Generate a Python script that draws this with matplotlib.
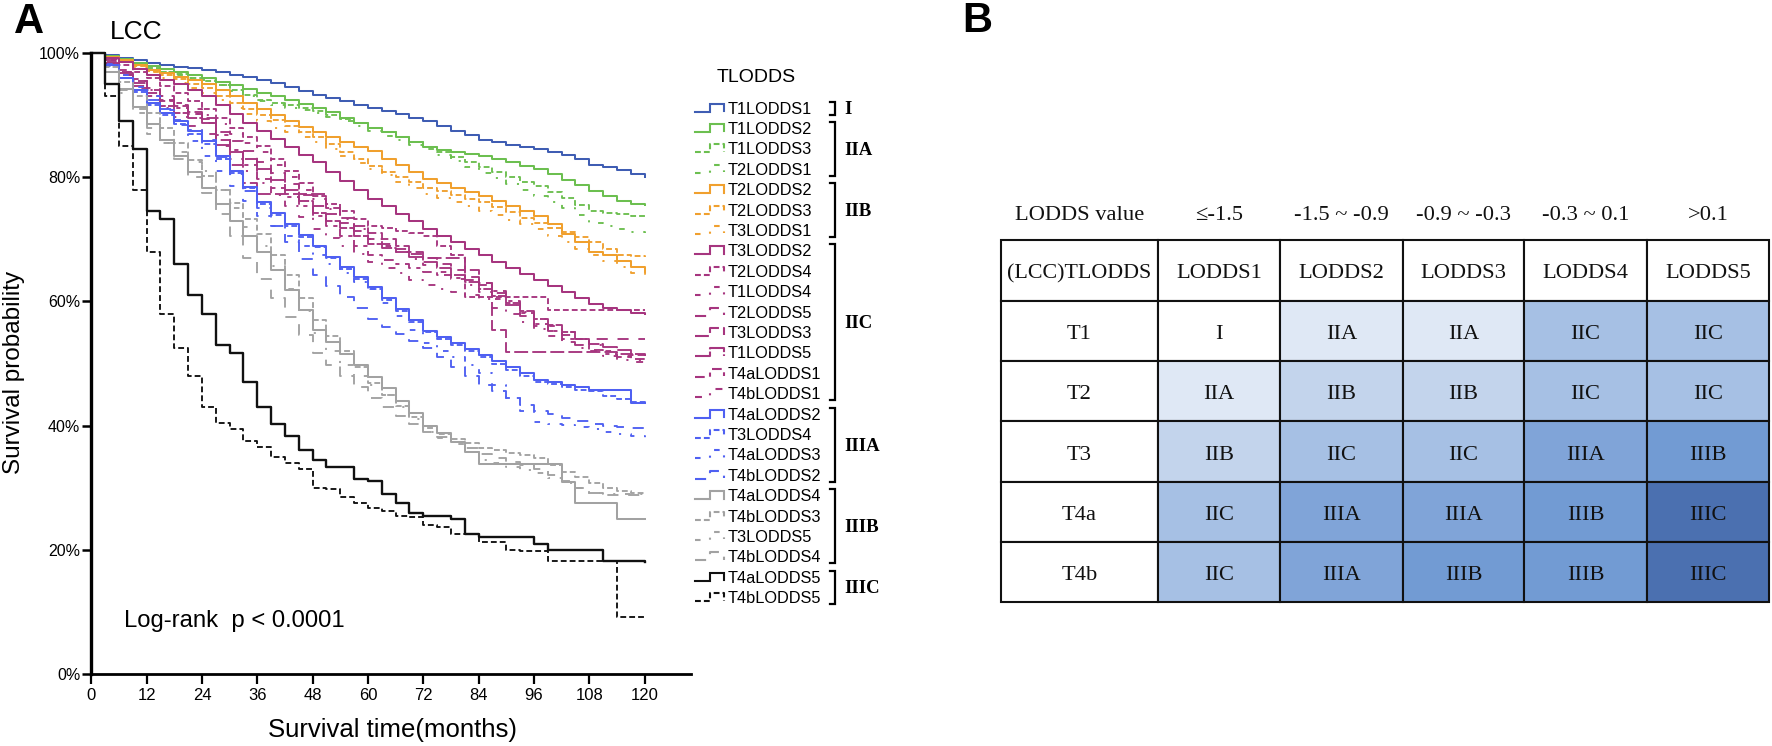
import matplotlib
matplotlib.use("Agg")
import matplotlib.pyplot as plt
from matplotlib.patches import Rectangle

plt.rcParams['font.family'] = ['Liberation Sans', 'DejaVu Sans']
plt.rcParams['lines.scale_dashes'] = False

W, H = 1772, 746
MONTHS = list(range(0, 121, 3))

T1L1 = [100, 99.6,99.2,98.8,98.4, 98.1,97.8,97.6,97.3, 96.9,96.5,96.1,95.7, 95.1,94.5,93.9,93.3, 92.8,92.2,91.7,91.2, 90.7,90.1,89.5,89, 88.3,87.5,86.8,86, 85.6,85.2,84.9,84.5, 84,83.5,82.9,82, 81.7,81.2,80.5,80]
T1L2 = [100, 99.5,99,98.4,97.9, 97.4,97,96.5,96, 95.4,94.8,94.2,93.6, 93,92.4,91.8,91.2, 90.5,89.6,88.8,88, 87.2,86.4,85.6,84.8, 84.4,84,83.7,83.4, 82.9,82.4,81.8,81.3, 80.5,79.6,78.7,77.8, 77,76.2,75.7,75.5]
T1L3 = [100, 99.4,99,98.3,97.6, 97,96.6,96,95.5, 94.8,94,93.3,92.5, 92,91.6,91.1,90.6, 90,89.4,88.7,88, 87.3,86.5,85.6,84.8, 84,83.2,82.4,81.6, 80.8,80,79.3,78.6, 77.6,76.6,75.6,74.6, 74.2,74,73.8,73.8]
T2L1 = [100, 99.4,98.8,98.1,97.4, 96.9,96.4,96,95.7, 94.8,93.9,93,92.2, 91.6,91.2,90.8,90.4, 89.7,89,88.2,87.4, 86.7,86,85.2,84.5, 83.6,82.6,81.7,80.7, 79.8,78.9,78,77, 76,75,73.9,72.7, 72.2,71.7,71.2,71]
T2L2 = [100, 99.4,98.8,98,97.3, 96.7,96.2,95.6,95, 94,93,92,91, 90,89,88.1,87.2, 86.4,85.6,84.9,84.2, 83,81.9,80.8,79.7, 79,78.3,77.6,77, 76.2,75.4,74.6,73.8, 72.4,70.9,69.5,68, 67.4,66.5,65.5,64.8]
T2L3 = [100, 99.3,98.7,97.9,97.1, 96.4,95.8,95,94.3, 93,92,91,90, 89.2,88.2,87.3,86.4, 85.3,84.1,83,81.8, 80.9,80,79.2,78.3, 77.7,77.1,76.5,76, 75.2,74.4,73.5,72.7, 71.9,71.1,70.3,69.5, 68.5,67.5,67.3,67.2]
T3L1 = [100, 99.2,98.5,97.6,96.9, 96,95.2,94.3,93.6, 92.4,91.2,90.1,89, 88,87.2,86.4,85.6, 84.5,83.4,82.3,81.3, 80.3,79.3,78.3,77.3, 76.6,76,75.3,74.6, 73.9,73.1,72.4,71.7, 70.6,69.6,68.5,67.4, 66.5,65.5,64.5,63.8]
T3L2 = [100, 99.2,98.5,97.5,96.5, 95.7,95,94,93, 91.6,90.2,88.8,87.4, 86.2,84.9,83.6,82.4, 80.9,79.4,78,76.5, 75.3,74,72.9,71.7, 70.6,69.5,68.5,67.4, 66.4,65.4,64.4,63.4, 62.4,61.5,60.5,59.6, 59,58.6,58.2,58]
T2L4 = [100, 99,98,97,96, 94.7,93.5,92.2,91, 89.5,88,86.5,85, 83,81,79,77, 75.7,74.5,73.3,72.2, 71.8,71.4,71,70.6, 69,67.5,60.7,60.7, 60.7,60.7,60.7,60.7, 58.6,58.6,58.6,58.6, 58.6,58.6,58.6,58.6]
T1L4 = [100, 98.8,97,95.5,94, 93,92,91,90, 88.5,87,85.5,84, 82,80,78,76.5, 74.8,73.2,71.6,70, 69,68,66.9,65.8, 64.7,63.6,62.6,61.5, 60.4,59.4,58.3,57.2, 56,55,54,53, 52,51.2,50.5,50]
T2L5 = [100, 98.8,97.2,95.8,94.4, 93,91.6,90.2,88.8, 87.3,85.8,84.2,82.4, 80.6,78.9,77.2,75.4, 74,72.7,71.3,70, 69.2,68.5,67.7,67, 66,65,64,63, 61.3,59.5,57.7,56, 55.3,54.6,54,54, 54,54,54,54]
T3L3 = [100, 98.3,96.5,94.7,93, 92.2,91.4,90.5,89.6, 86,82,79,77.3, 77.3,77.3,77.3,77.3, 75,73.5,72.2,71, 70,69,68,67, 67,67,65,62.6, 55.4,51.8,51.8,51.8, 51.8,51.8,51.8,51.8, 51.8,51.6,51.4,51.2]
T1L5 = [100, 98.4,96.8,95.2,93.6, 91.4,90.3,89.5,88.8, 85.2,84.1,82.9,81.3, 79.6,78,76.2,74.3, 73,71.8,70.5,69.3, 68.6,67.9,67.1,66.3, 65.3,64.2,63.1,62, 60.9,59.8,58.5,57.2, 56.2,55.1,54,53.2, 52.6,52.1,51.6,51.2]
T4aL1 = [100, 98.6,97,95.5,94, 92.5,91.2,90.2,89.3, 86.8,84.4,82,79.7, 78.2,76.8,75.3,73.8, 72.2,70.6,69,67.4, 66.7,66,65.3,64.7, 64.2,63.8,63.4,63, 61.6,60,58.2,56.4, 55.2,54,53,52.2, 51.6,51.1,50.8,50.5]
T4bL1 = [100, 98.2,96.4,94.4,92.5, 91.1,89.7,88.3,87, 85,83,81,79, 77.2,75.4,73.6,71.7, 70.2,68.9,67.6,66.3, 65.4,64.5,63.5,62.6, 62,61.5,61,60.4, 59,57.9,56.7,55.6, 54.5,53.4,52.5,52, 51.2,50.6,50.2,50]
T4aL2 = [100, 98,96,94,92, 90.4,89,87.4,85.8, 83.4,81,78.5,76, 74.2,72.5,70.7,69, 67.2,65.5,63.9,62.3, 60.5,58.7,57,55.2, 54.2,53.3,52.3,51.4, 50.4,49.4,48.4,47.4, 47,46.6,46.2,45.8, 45.8,45.8,43.7,43.7]
T3L4 = [100, 97.9,95.9,93.8,91.7, 90,88.6,87,85.3, 83,80.6,78.2,75.7, 73.9,72.2,70.4,68.7, 67,65.2,63.6,62, 60.2,58.5,56.7,55, 54,53,52,51, 50,49,48,47.1, 46.7,46.2,45.8,45.5, 44.8,44.3,43.8,43.5]
T4aL3 = [100, 98.2,96.4,94.6,93, 90.8,88.4,85.8,83.4, 81,78.6,76.2,73.8, 72.2,70.6,69,67.4, 66,64.6,63.2,62, 59.8,57.6,55.4,53.3, 52,51,49.8,48.5, 46.5,44.5,42.4,40.5, 40.3,40.1,39.8,39.4, 39,38.6,38.3,38]
T4bL2 = [100, 98,96,94,92.5, 91,89.2,87.6,86, 83.3,80.5,77.7,75, 72.2,69.5,66.8,64.2, 62.5,60.7,59,57.2, 55.9,54.7,53.6,52.5, 51,49.5,48,46.6, 45.5,44.4,43.3,42.3, 41.8,41.3,40.7,40.2, 40,39.8,39.6,39.5]
T4aL4 = [100, 97,94.2,91.3,88.5, 86,83.4,80.9,78.3, 75.7,73,70.5,67.9, 65,61.8,58.6,55.4, 53.5,51.6,49.8,47.9, 46,44,42,40, 38.8,37.4,35.8,33.8, 33.8,33.8,33.8,33.8, 33.8,30.9,27.5,27.5, 27.5,25,25,25]
T4bL3 = [100, 97.7,95.4,93,90.4, 88,85.5,82.8,80.2, 78,75.8,73.3,70.9, 67.5,64.2,60.6,57, 54.5,52,49.5,46.9, 45,43.2,41.4,39.6, 38.6,37.8,37.2,36.4, 36,35.6,35.2,34.8, 33.7,32.6,31.7,30.8, 30,29.5,29.2,29]
T3L5 = [100, 97,93.6,90.4,87, 85.5,84,82.5,81, 78,75,72,69, 65.7,62,58.5,54.9, 52,49.8,48,46.6, 45,43,41,39, 38,37,35.8,34.5, 33.9,33.4,32.9,32.4, 31.6,30.8,30,29.2, 29,29,29,29]
T4bL4 = [100, 97,94,91,88, 85.5,83,80,77.5, 74,70.5,67,63.6, 60.5,57.5,54.6,51.7, 49.8,48,46.2,44.5, 43,41.6,40.2,38.9, 38.2,37.4,36.4,35.4, 34.8,34.2,33.6,33, 32,31,30,29.2, 28.9,28.8,28.8,28.8]
T4aL5 = [100, 95,89,84.5,74.6, 73.3,66,61,58, 53,51.7,47,43, 40.2,38.3,36,34.5, 33.4,33.3,31.4,31, 29,27.5,26,25.5, 25.5,25,22.5,22, 22,22,22,21, 19.9,19.9,19.9,19.9, 18.2,18.2,18.2,18]
T4bL5 = [100, 93,85,78,68, 58,52.5,48,43, 40.4,39.5,37.5,36.5, 35,34,33,30, 29.8,28.5,27.5,26.7, 26.3,25.5,25.3,24, 23.6,22.5,22.5,21.2, 21.2,20,19.8,19.8, 18.2,18.2,18.2,18.2, 18.2,9.1,9.1,9.1]

SERIES_NAMES = ['T1LODDS1','T1LODDS2','T1LODDS3','T2LODDS1','T2LODDS2','T2LODDS3','T3LODDS1','T3LODDS2',
                'T2LODDS4','T1LODDS4','T2LODDS5','T3LODDS3','T1LODDS5','T4aLODDS1','T4bLODDS1',
                'T4aLODDS2','T3LODDS4','T4aLODDS3','T4bLODDS2','T4aLODDS4','T4bLODDS3','T3LODDS5','T4bLODDS4',
                'T4aLODDS5','T4bLODDS5']
SERIES = [T1L1,T1L2,T1L3,T2L1,T2L2,T2L3,T3L1,T3L2,T2L4,T1L4,T2L5,T3L3,T1L5,T4aL1,T4bL1,
          T4aL2,T3L4,T4aL3,T4bL2,T4aL4,T4bL3,T3L5,T4bL4,T4aL5,T4bL5]

BLUE, GREEN, ORANGE, MAG, BRIGHT, GREY, BLACK = '#3F5DB3', '#6CBF50', '#F0A02E', '#A6357F', '#4F60F2', '#A2A2A2', '#111111'
COLORS = [BLUE, GREEN, GREEN, GREEN, ORANGE, ORANGE, ORANGE, MAG, MAG, MAG, MAG, MAG, MAG, MAG, MAG,
          BRIGHT, BRIGHT, BRIGHT, BRIGHT, GREY, GREY, GREY, GREY, BLACK, BLACK]
SOLID, SHORT, SPARSE, LONG = '-', (0, (4.2, 2.2)), (0, (4, 7, 1.5, 7)), (0, (8, 7))
LONGER, VLONG, MEDIUM, LSPARSE = (0, (10, 3)), (0, (14, 1.6)), (0, (7, 4, 3, 4)), (0, (5, 7, 1.5, 7))
STYLES = [SOLID, SOLID, SHORT, SPARSE, SOLID, SHORT, SPARSE, SOLID, SHORT, SPARSE, LONG, LONGER, VLONG, MEDIUM, LSPARSE,
          SOLID, SHORT, SPARSE, LONG, SOLID, SHORT, SPARSE, LONG, SOLID, SHORT]

STAGE_GROUPS = [('I', 0, 0), ('IIA', 1, 3), ('IIB', 4, 6), ('IIC', 7, 14), ('IIIA', 15, 18), ('IIIB', 19, 22), ('IIIC', 23, 24)]

TABLE_TOP = ['LODDS value', '≤-1.5', '-1.5 ~ -0.9', '-0.9 ~ -0.3', '-0.3 ~ 0.1', '>0.1']
TABLE_HEAD = ['(LCC)TLODDS', 'LODDS1', 'LODDS2', 'LODDS3', 'LODDS4', 'LODDS5']
T_ROWS = ['T1', 'T2', 'T3', 'T4a', 'T4b']
STAGE_TABLE = [['I', 'IIA', 'IIA', 'IIC', 'IIC'],
               ['IIA', 'IIB', 'IIB', 'IIC', 'IIC'],
               ['IIB', 'IIC', 'IIC', 'IIIA', 'IIIB'],
               ['IIC', 'IIIA', 'IIIA', 'IIIB', 'IIIC'],
               ['IIC', 'IIIA', 'IIIB', 'IIIB', 'IIIC']]
STAGE_COLORS = {'I': '#FFFFFF', 'IIA': '#DFE8F5', 'IIB': '#C3D4EC', 'IIC': '#A6C0E4',
                'IIIA': '#80A4D8', 'IIIB': '#729BD3', 'IIIC': '#4B70B0'}

fig = plt.figure(figsize=(W / 100, H / 100), dpi=100, facecolor='white')

def px_axes(l, t, r, b, **kw):
    return fig.add_axes([l / W, 1 - b / H, (r - l) / W, (b - t) / H], **kw)

# Panel A
ax = px_axes(91.3, 53, 691.3, 674)
ax.set_xlim(0, 600 / 4.61)
ax.set_ylim(0, 100)
for vals, c, ls, name in zip(SERIES, COLORS, STYLES, SERIES_NAMES):
    assert len(vals) == len(MONTHS), name
    lw = 1.7 if c == BLACK and ls == '-' else (1.45 if ls == '-' else 1.35)
    ax.step(MONTHS, vals, where='post', color=c, lw=lw, ls=ls, clip_on=False, dash_capstyle='butt')
ax.set_xticks(range(0, 121, 12))
ax.set_yticks(range(0, 101, 20))
ax.set_yticklabels([f'{v}%' for v in range(0, 101, 20)])
ax.tick_params(axis='y', labelsize=11.5, length=6.5, width=1.8, pad=1.5)
ax.tick_params(axis='x', labelsize=12, length=7, width=1.6, pad=3)
ax.spines[['top', 'right']].set_visible(False)
ax.spines['left'].set_linewidth(2.4)
ax.spines['bottom'].set_linewidth(2.0)

# overlay in pixel coordinates
ov = px_axes(0, 0, W, H)
ov.set_xlim(0, W)
ov.set_ylim(H, 0)
ov.axis('off')
ov.patch.set_alpha(0)
ov.text(393, 730, 'Survival time(months)', fontsize=18.5, ha='center', va='center')
ov.text(14, 372, 'Survival probability', fontsize=17.5, rotation=90, ha='center', va='center')
ov.text(14, 33, 'A', fontsize=30, fontweight='bold', ha='left', va='baseline')
ov.text(962, 32, 'B', fontsize=30, fontweight='bold', ha='left', va='baseline')
ov.text(110, 39, 'LCC', fontsize=19, ha='left', va='baseline')
ov.text(124, 627, 'Log-rank  p < 0.0001', fontsize=17.2, ha='left', va='baseline')
ov.text(717, 82, 'TLODDS', fontsize=14, ha='left', va='baseline')

ROW0, DROW = 107.5, 20.4
for i, (name, c, ls) in enumerate(zip(SERIES_NAMES, COLORS, STYLES)):
    y = ROW0 + i * DROW
    ov.plot([695, 710, 710, 724, 724], [y + 4, y + 4, y - 4, y - 4, y + 3.5], color=c,
            lw=1.5, ls=ls, solid_joinstyle='miter')
    ov.text(728, y + 6, name, fontsize=11.8, ha='left', va='baseline')

for label, a, b in STAGE_GROUPS:
    ya, yb = ROW0 + a * DROW - 6, ROW0 + b * DROW + 7
    ov.plot([830, 835, 835, 830], [ya, ya, yb, yb], color='black', lw=1.6, solid_joinstyle='miter')
    ov.text(844, (ya + yb) / 2 + 6, label, fontsize=13.5, fontweight='bold', family='Liberation Serif',
            ha='left', va='baseline')

# Panel B
col_edges = [0, 157, 279, 402, 523, 646, 768]
row_edges = [0, 61, 121, 181, 242, 302, 362]
tb = px_axes(1001, 240, 1769, 602)
tb.set_xlim(0, 768)
tb.set_ylim(362, 0)
tb.axis('off')
serif = 'Liberation Serif'
for r in range(6):
    for c in range(6):
        x0, x1, y0, y1 = col_edges[c], col_edges[c + 1], row_edges[r], row_edges[r + 1]
        if r == 0:
            txt, face = TABLE_HEAD[c], 'white'
        elif c == 0:
            txt, face = T_ROWS[r - 1], 'white'
        else:
            txt, face = STAGE_TABLE[r - 1][c - 1], STAGE_COLORS[STAGE_TABLE[r - 1][c - 1]]
        tb.add_patch(Rectangle((x0, y0), x1 - x0, y1 - y0, facecolor=face, edgecolor='#111111', lw=1.5, clip_on=False))
        tb.text((x0 + x1) / 2, (y0 + y1) / 2 + 8, txt, family=serif, fontsize=16.2 if c or r else 15.8,
                ha='center', va='baseline', color='#111111')
for c, txt in enumerate(TABLE_TOP):
    tb.text((col_edges[c] + col_edges[c + 1]) / 2, -20, txt, family=serif, fontsize=16.2,
            ha='center', va='baseline', color='#111111', clip_on=False)

fig.savefig('out.png', dpi=100)
